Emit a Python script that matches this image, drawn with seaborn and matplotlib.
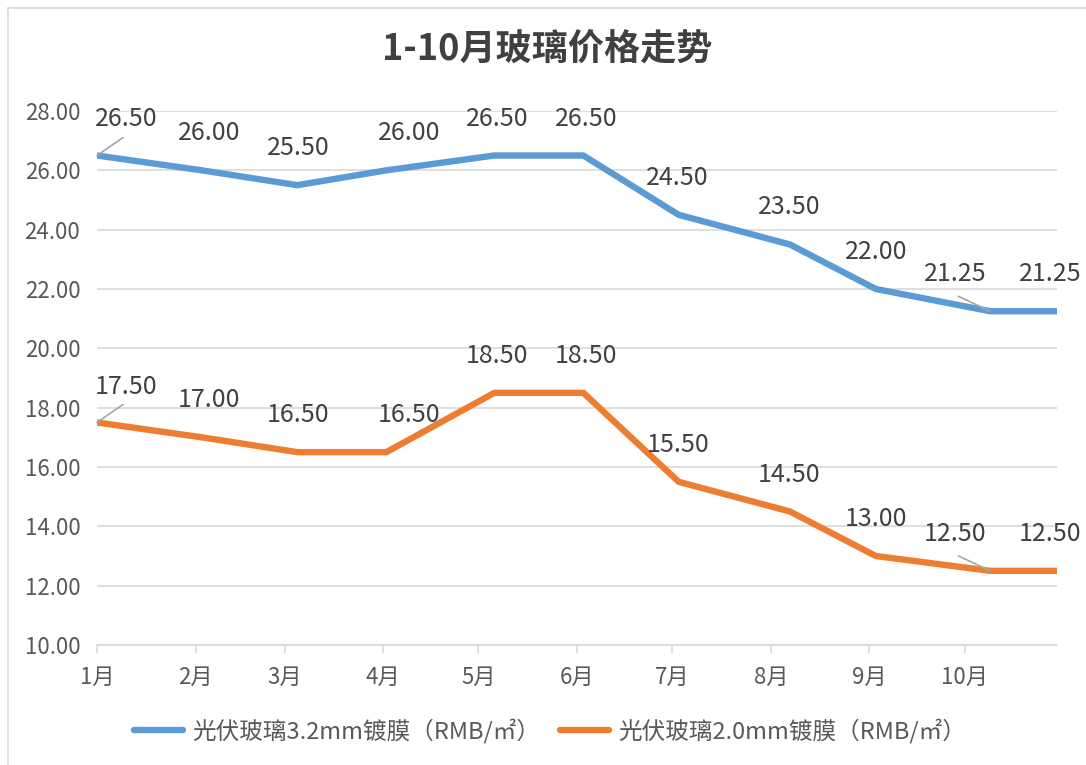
import matplotlib
matplotlib.use("Agg")
import matplotlib.pyplot as plt
from matplotlib.lines import Line2D
import pandas as pd
import seaborn as sns

# Quotation dates and prices (RMB per square metre)
quote_dates = ["2018-01-01", "2018-02-03", "2018-03-05", "2018-04-02", "2018-05-06",
               "2018-06-03", "2018-07-03", "2018-08-07", "2018-09-03", "2018-10-09",
               "2018-10-30"]
glass_32mm = [26.50, 26.00, 25.50, 26.00, 26.50, 26.50, 24.50, 23.50, 22.00, 21.25, 21.25]
glass_20mm = [17.50, 17.00, 16.50, 16.50, 18.50, 18.50, 15.50, 14.50, 13.00, 12.50, 12.50]
series_names = ["光伏玻璃3.2mm镀膜（RMB/㎡）", "光伏玻璃2.0mm镀膜（RMB/㎡）"]
month_starts = ["2018-01-01", "2018-02-01", "2018-03-01", "2018-04-01", "2018-05-01",
                "2018-06-01", "2018-07-01", "2018-08-01", "2018-09-01", "2018-10-01"]
month_labels = ["1月", "2月", "3月", "4月", "5月", "6月", "7月", "8月", "9月", "10月"]
title_text = "1-10月玻璃价格走势"

colors = ["#5B9BD5", "#ED7D31"]
text_color = "#595959"
grid_color = "#D9D9D9"

sns.set_theme(style="white")
plt.rcParams["font.family"] = ["Noto Sans CJK SC", "DejaVu Sans"]

dates = pd.to_datetime(quote_dates)
df = pd.DataFrame({
    "date": list(dates) * 2,
    "price": glass_32mm + glass_20mm,
    "series": [series_names[0]] * len(dates) + [series_names[1]] * len(dates),
})

W, H = 1086, 765
fig = plt.figure(figsize=(W / 100, H / 100), dpi=100)
fig.patch.set_facecolor("white")

# chart-area frame (top and left edges)
frame_kw = dict(transform=fig.transFigure, color="#D9D9D9", lw=1.2)
fig.add_artist(Line2D([8 / W, 8 / W], [0, 1 - 8 / H], **frame_kw))
fig.add_artist(Line2D([8 / W, 1], [1 - 8 / H, 1 - 8 / H], **frame_kw))

left, right, top, bottom = 97, 1057, 111, 645
ax = fig.add_axes([left / W, 1 - bottom / H, (right - left) / W, (bottom - top) / H])

sns.lineplot(data=df, x="date", y="price", hue="series", palette=colors,
             hue_order=series_names, linewidth=4.6, ax=ax, legend=False,
             sort=False, solid_joinstyle="miter")

ax.set_xlim(dates[0], dates[-1])
ax.set_ylim(10, 28)
ax.set_yticks([10, 12, 14, 16, 18, 20, 22, 24, 26, 28])
ax.yaxis.set_major_formatter(matplotlib.ticker.FormatStrFormatter("%.2f"))
ax.set_xticks(pd.to_datetime(month_starts))
ax.set_xticklabels(month_labels)
ax.set_xlabel("")
ax.set_ylabel("")

ax.grid(axis="y", color=grid_color, lw=1.2)
ax.grid(axis="x", visible=False)
ax.set_axisbelow(True)
for side in ["top", "right", "left"]:
    ax.spines[side].set_visible(False)
ax.spines["bottom"].set_color(grid_color)
ax.spines["bottom"].set_linewidth(1.2)

ax.tick_params(axis="x", length=6, width=1.2, color=grid_color, pad=9,
               labelsize=16, labelcolor=text_color, bottom=True)
ax.tick_params(axis="y", length=0, pad=12, labelsize=16, labelcolor=text_color)

# data labels: pixel offsets from each point
label_offsets = [(29, 36), (7, 37), (1, 37), (23, 37), (3, 37), (3, 37),
                 (-1, 37), (-1, 37), (0, 37), (-35, 37), (-7, 37)]
leader_ends = {0: (26, 18), 9: (-32, 15)}

for values in (glass_32mm, glass_20mm):
    for i, (d, v) in enumerate(zip(dates, values)):
        dx, dy = label_offsets[i]
        ax.annotate(f"{v:.2f}", xy=(d, v), xytext=(dx, dy),
                    textcoords="offset pixels", ha="center", va="center",
                    fontsize=18, color="#404040", annotation_clip=False)
        if i in leader_ends:
            ex, ey = leader_ends[i]
            ax.annotate("", xy=(d, v), xytext=(ex, ey), textcoords="offset pixels",
                        arrowprops=dict(arrowstyle="-", color="#A6A6A6", lw=1.2,
                                        shrinkA=0, shrinkB=0),
                        annotation_clip=False)

fig.text(547 / W, 1 - 50 / H, title_text, ha="center", va="center",
         fontsize=26, fontweight="bold", color="#404040")

handles = [Line2D([0], [0], color=c, lw=4.6, solid_capstyle="round") for c in colors]
fig.legend(handles, series_names, loc="center", bbox_to_anchor=(550 / W, 1 - 731 / H),
           ncol=2, frameon=False, fontsize=17, handlelength=2.1, handletextpad=0.4,
           columnspacing=0.8, labelcolor=text_color)

fig.savefig("out.png", dpi=100, facecolor="white")
